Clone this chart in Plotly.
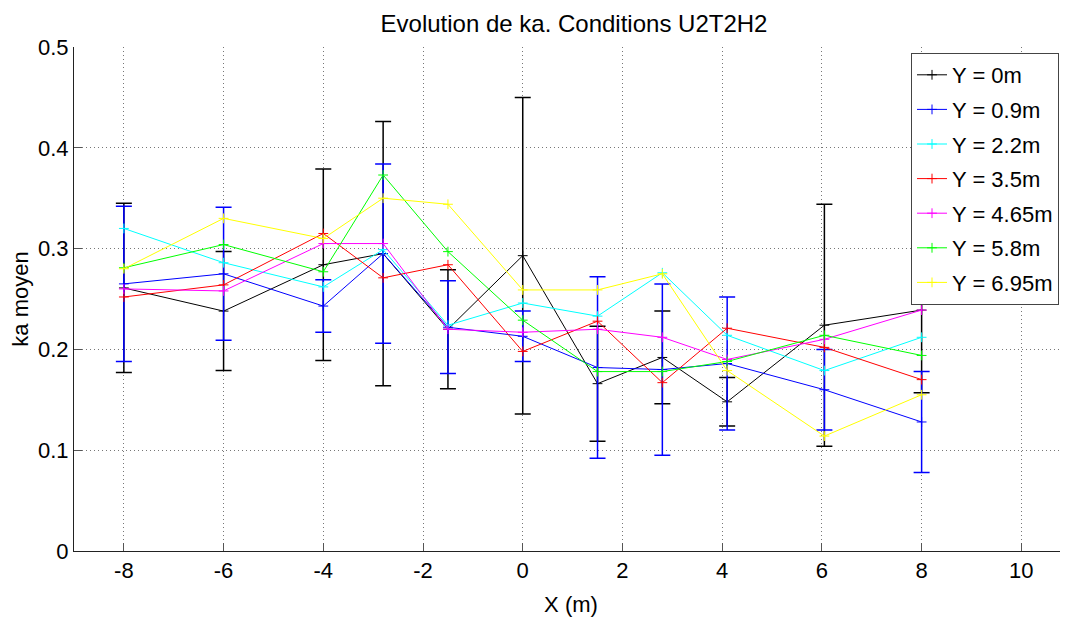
import plotly.graph_objects as go

X = [-8, -6, -4, -2.8, -1.5, 0, 1.5, 2.8, 4.1, 6.05, 8]

names = ["Y = 0m", "Y = 0.9m", "Y = 2.2m", "Y = 3.5m", "Y = 4.65m", "Y = 5.8m", "Y = 6.95m"]
colors = ["#000000", "#0000FF", "#00FFFF", "#FF0000", "#FF00FF", "#00FF00", "#FFFF00"]

ka_y0 = [0.261, 0.238, 0.284, 0.295, 0.220, 0.293, 0.166, 0.192, 0.148, 0.224, 0.239]
ka_y09 = [0.265, 0.275, 0.243, 0.295, 0.222, 0.213, 0.182, 0.180, 0.186, 0.160, 0.128]
ka_y22 = [0.320, 0.286, 0.262, 0.299, 0.224, 0.246, 0.233, 0.276, 0.214, 0.179, 0.212]
ka_y35 = [0.252, 0.264, 0.315, 0.271, 0.284, 0.198, 0.228, 0.167, 0.221, 0.202, 0.170]
ka_y465 = [0.260, 0.258, 0.305, 0.305, 0.220, 0.217, 0.220, 0.212, 0.190, 0.210, 0.239]
ka_y58 = [0.281, 0.304, 0.277, 0.373, 0.297, 0.229, 0.178, 0.178, 0.188, 0.214, 0.194]
ka_y695 = [0.280, 0.330, 0.310, 0.350, 0.344, 0.259, 0.259, 0.275, 0.179, 0.114, 0.155]

err_y0 = [0.084, 0.059, 0.095, 0.131, 0.059, 0.157, 0.057, 0.046, 0.024, 0.120, 0.082]
err_y09 = [0.077, 0.066, 0.026, 0.089, 0.046, 0.025, 0.090, 0.085, 0.066, 0.040, 0.050]

x_ticks = [-8, -6, -4, -2, 0, 2, 4, 6, 8, 10]
x_ticktext = ["-8", "-6", "-4", "-2", "0", "2", "4", "6", "8", "10"]
y_ticks = [0, 0.1, 0.2, 0.3, 0.4, 0.5]
y_ticktext = ["0", "0.1", "0.2", "0.3", "0.4", "0.5"]

series = [ka_y0, ka_y09, ka_y22, ka_y35, ka_y465, ka_y58, ka_y695]
errors = [err_y0, err_y09, None, None, None, None, None]

fig = go.Figure()
for i, (nm, col, vals, err) in enumerate(zip(names, colors, series, errors)):
    kw = {}
    if err is not None:
        kw["error_y"] = dict(type="data", array=err, visible=True, color=col,
                             thickness=1.5, width=8)
    fig.add_trace(go.Scatter(
        x=X, y=vals, name=nm, mode="lines+markers",
        line=dict(color=col, width=1),
        marker=dict(symbol="cross-thin", size=7, color=col,
                    line=dict(color=col, width=1)),
        legendgroup="g%d" % i,
        **kw))

font_family = "Liberation Sans, Arial, sans-serif"
FS = 22
OFF = 8  # page body margin offset

W, H = 1068 - OFF, 617 - OFF
ML, MT, MB = 74 - OFF, 47 - OFF, 66
PW = W - ML
PH = H - MT - MB

fig.update_layout(
    width=W, height=H,
    margin=dict(l=ML, r=0, t=MT, b=MB, autoexpand=False),
    paper_bgcolor="white", plot_bgcolor="white",
    font=dict(family=font_family, size=FS, color="black"),
    title=dict(text="Evolution de ka. Conditions U2T2H2",
               x=(574 - OFF) / W, xanchor="center",
               y=1 - (7 - 0) / H, yanchor="top", font=dict(size=24)),
    showlegend=True,
    legend=dict(x=(911 - 74) / PW, xanchor="left", y=1 - 6 / PH, yanchor="top",
                bgcolor="white", bordercolor="#444", borderwidth=1,
                font=dict(size=FS), tracegroupgap=3, traceorder="grouped",
                itemwidth=30),
)

fig.update_xaxes(
    range=[-9, -9 + PW / 49.86], tickmode="array", tickvals=x_ticks, ticktext=x_ticktext,
    title=dict(text="X (m)", font=dict(size=FS)), automargin=False,
    showgrid=True, gridcolor="#777", griddash="1px,3px", gridwidth=1,
    zeroline=False, showline=True, linecolor="#222", linewidth=1,
    ticks="inside", ticklen=8, tickcolor="#555", tickfont=dict(size=FS),
)
fig.update_yaxes(
    range=[0, 0.5], tickmode="array", tickvals=y_ticks, ticktext=y_ticktext,
    title=dict(text="ka moyen", font=dict(size=FS)), automargin=False,
    showgrid=True, gridcolor="#777", griddash="1px,3px", gridwidth=1,
    zeroline=False, showline=True, linecolor="#222", linewidth=1,
    ticks="inside", ticklen=8, tickcolor="#555", tickfont=dict(size=FS),
)

fig.write_html("out.html")
